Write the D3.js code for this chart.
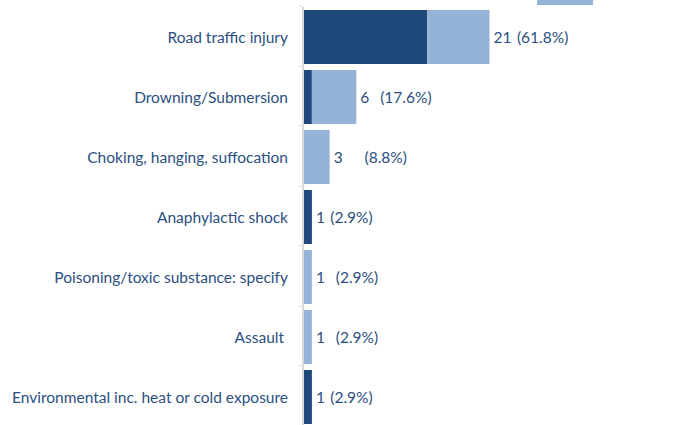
<!DOCTYPE html>
<html>
<head>
<meta charset="utf-8">
<script src="https://cdn.jsdelivr.net/npm/d3@7"></script>
<style>
  body { margin: 0; background: #fff; }
  svg { display: block; font-family: Lato, "Open Sans", sans-serif; }
  .lbl { fill: #2b4f80; font-size: 15.5px; white-space: pre; }
  .val { word-spacing: 1.5px; }
</style>
</head>
<body>
<div id="chart"></div>
<script>
// categories, top to bottom
var categories = [
  "Road traffic injury",
  "Drowning/Submersion",
  "Choking, hanging, suffocation",
  "Anaphylactic shock",
  "Poisoning/toxic substance: specify",
  "Assault ",
  "Environmental inc. heat or cold exposure"
];
var seriesNames = ["Intentional", "Unintentional purpose"];
var darkValues = [14, 1, 0, 1, 0, 0, 1];
var lightValues = [7, 5, 3, 0, 1, 1, 0];
var valueLabels = ["21 (61.8%)", "6  (17.6%)", "3    (8.8%)", "1 (2.9%)", "1  (2.9%)", "1  (2.9%)", "1 (2.9%)"];

var width = 683, height = 425;
var colors = ["#1f487c", "#95b3d7"];

var svg = d3.select("#chart").append("svg")
  .attr("width", width)
  .attr("height", height);

var y = d3.scaleBand()
  .domain(categories)
  .range([7, 427])
  .paddingInner(0.1)
  .paddingOuter(0.05);

var x = d3.scaleLinear()
  .domain([0, 21])
  .range([303, 489.5]);

var rows = categories.map(function(c, i) {
  return { cat: c, dark: darkValues[i], light: lightValues[i], label: valueLabels[i] };
});

// tick marks at band boundaries
var step = y.step();
svg.selectAll(".tick")
  .data(categories)
  .enter().append("line")
  .attr("x1", 299).attr("x2", 303)
  .attr("y1", function(d) { return y(d) - step * 0.05 - 1; })
  .attr("y2", function(d) { return y(d) - step * 0.05 - 1; })
  .attr("stroke", "#d9d9d9")
  .attr("stroke-width", 1);

var g = svg.selectAll(".row")
  .data(rows)
  .enter().append("g");

g.append("rect")
  .attr("x", x(0))
  .attr("y", function(d) { return y(d.cat); })
  .attr("width", function(d) { return x(d.dark) - x(0); })
  .attr("height", y.bandwidth())
  .style("fill", colors[0]);

g.append("rect")
  .attr("x", function(d) { return x(d.dark); })
  .attr("y", function(d) { return y(d.cat); })
  .attr("width", function(d) { return x(d.dark + d.light) - x(d.dark); })
  .attr("height", y.bandwidth())
  .style("fill", colors[1]);

g.append("text")
  .attr("class", "lbl val")
  .attr("x", function(d) { return x(d.dark + d.light) + 4; })
  .attr("y", function(d) { return y(d.cat) + y.bandwidth() / 2 + 1; })
  .attr("dy", "0.35em")
  .text(function(d) { return d.label; });

g.append("text")
  .attr("class", "lbl")
  .attr("x", 288)
  .attr("y", function(d) { return y(d.cat) + y.bandwidth() / 2 + 1; })
  .attr("dy", "0.35em")
  .style("text-anchor", "end")
  .text(function(d) { return d.cat; });

// axis line
svg.append("line")
  .attr("x1", 303).attr("x2", 303)
  .attr("y1", 7).attr("y2", height)
  .attr("stroke", "#d9d9d9")
  .attr("stroke-width", 2);

// legend, cut off at the top edge
svg.append("rect")
  .attr("x", 537).attr("y", -20)
  .attr("width", 56).attr("height", 25)
  .style("fill", colors[1]);
svg.append("text")
  .attr("class", "lbl")
  .attr("x", 607).attr("y", -1)
  .text(seriesNames[1]);
</script>
</body>
</html>
